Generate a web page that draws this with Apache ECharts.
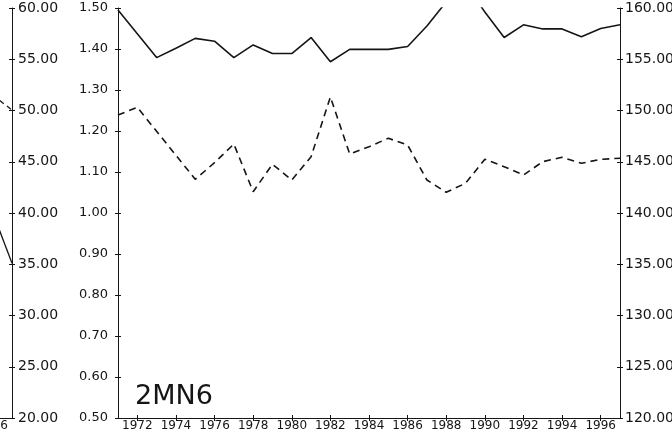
<!DOCTYPE html>
<html>
<head>
<meta charset="utf-8">
<script src="https://cdn.jsdelivr.net/npm/echarts@6/dist/echarts.min.js"></script>
<style>
  html, body { margin: 0; padding: 0; background: #fff; }
  #chart { width: 672px; height: 439px; }
</style>
</head>
<body>
<div id="chart"></div>
<script>
// Years on the horizontal axis
const years = ['1971','1972','1973','1974','1975','1976','1977','1978','1979','1980',
  '1981','1982','1983','1984','1985','1986','1987','1988','1989','1990',
  '1991','1992','1993','1994','1995','1996','1997'];

// Station 2MN6: solid series (left scale, 0.50 - 1.50)
const solidValues = [1.495, 1.437, 1.379, 1.402, 1.426, 1.419, 1.379, 1.410, 1.389, 1.389,
  1.428, 1.369, 1.399, 1.399, 1.399, 1.406, 1.456, 1.515, 1.56, 1.49,
  1.428, 1.459, 1.449, 1.449, 1.430, 1.450, 1.459];

// Station 2MN6: dashed series (right scale, 120 - 160)
const dashedValues = [149.56, 150.31, 147.97, 145.63, 143.29, 144.91, 146.73, 142.08, 144.75, 143.22,
  145.49, 151.32, 145.76, 146.47, 147.29, 146.63, 143.22, 142.02, 142.90, 145.24,
  144.52, 143.71, 145.01, 145.43, 144.85, 145.24, 145.34];

// Last years of the preceding panel (its right scale, 20 - 60)
const prevYears = [1996, 1997];
const prevSolid = [40.05, 35.1];
const prevDashed = [51.5, 50.05];
const prevLastLabel = '1996';

const leftTicks = { min: 0.5, max: 1.5, interval: 0.1 };
const rightTicks = { min: 120, max: 160, interval: 5 };
const prevTicks = { min: 20, max: 60, interval: 5 };
const panelLabel = '2MN6';

const ink = '#151515';
const fontFamily = 'DejaVu Sans';
const evenYear = (i, v) => Number(v) % 2 === 0;

function mainXAxes() {
  const base = {
    type: 'category', data: years, boundaryGap: false, gridIndex: 0, position: 'bottom',
    axisLine: { lineStyle: { color: ink, width: 1 } },
    splitLine: { show: false }
  };
  return [
    Object.assign({}, base, {
      axisTick: { show: true, interval: evenYear, length: 3, lineStyle: { color: ink } },
      axisLabel: { interval: evenYear, color: ink, fontFamily, fontSize: 12, margin: 2 }
    }),
    Object.assign({}, base, {
      axisTick: { show: true, inside: true, interval: evenYear, length: 3, lineStyle: { color: ink } },
      axisLabel: { show: false }, axisLine: { show: false }
    })
  ];
}

function yPair(gridIndex, ticks, position, labelOpts, fmt) {
  const base = {
    type: 'value', gridIndex, position, min: ticks.min, max: ticks.max, interval: ticks.interval,
    splitLine: { show: false }, offset: 0
  };
  return [
    Object.assign({}, base, {
      axisLine: { show: true, lineStyle: { color: ink, width: 1 } },
      axisTick: { show: true, length: 3, lineStyle: { color: ink } },
      axisLabel: Object.assign({ color: ink, fontFamily, fontSize: 13, formatter: fmt }, labelOpts)
    }),
    Object.assign({}, base, {
      axisLine: { show: false },
      axisTick: { show: true, inside: true, length: 3, lineStyle: { color: ink } },
      axisLabel: { show: false }
    })
  ];
}

const chart = echarts.init(document.getElementById('chart'), null, { renderer: 'canvas' });
const fmt2 = v => v.toFixed(2);
const pairs = (xs, ys) => xs.map((x, i) => [x, ys[i]]);

// The preceding panel uses the same year spacing; only its last ~0.6 year fits in view.
const yearSpan = (672 - 52 - 118) / (years.length - 1);
const prevMin = 1997 - 12 / yearSpan;

chart.setOption({
  backgroundColor: '#fff',
  animation: false,
  grid: [
    { left: 118, right: 52, top: 8, bottom: 21, containLabel: false, outerBoundsMode: 'none' },
    { left: 0, right: 660, top: 8, bottom: 21, containLabel: false, outerBoundsMode: 'none' }
  ],
  xAxis: mainXAxes().concat([{
    type: 'value', gridIndex: 1, min: prevMin, max: 1997, position: 'bottom',
    axisLine: { lineStyle: { color: ink, width: 1 } },
    axisTick: { show: false }, axisLabel: { show: false }, splitLine: { show: false }
  }]),
  yAxis: [].concat(
    yPair(0, leftTicks, 'left', { margin: 10 }, fmt2),
    yPair(0, rightTicks, 'right', { margin: 5, fontSize: 14 }, fmt2),
    yPair(1, prevTicks, 'right', { margin: 6, fontSize: 14 }, fmt2)
  ),
  title: {
    text: panelLabel,
    left: 130, top: 378,
    textStyle: { fontFamily, fontSize: 27, fontWeight: 'normal', color: ink }
  },
  series: [
    {
      type: 'line', name: 'solid', data: solidValues, xAxisIndex: 0, yAxisIndex: 0,
      symbol: 'none', smooth: false, clip: true,
      lineStyle: { color: ink, width: 1.6, type: 'solid' }
    },
    {
      type: 'line', name: 'dashed', data: dashedValues, xAxisIndex: 0, yAxisIndex: 2,
      symbol: 'none', smooth: false, clip: true,
      lineStyle: { color: ink, width: 1.6, type: [7, 5] }
    },
    {
      type: 'line', name: 'prev-solid', data: pairs(prevYears, prevSolid), xAxisIndex: 2, yAxisIndex: 4,
      symbol: 'none', clip: true,
      lineStyle: { color: ink, width: 1.3, type: 'solid' }
    },
    {
      type: 'line', name: 'prev-dashed', data: pairs(prevYears, prevDashed), xAxisIndex: 2, yAxisIndex: 4,
      symbol: 'none', clip: true,
      lineStyle: { color: ink, width: 1.3, type: [5, 4] }
    }
  ]
});

// Year label of the preceding panel, placed with that panel's own x scale
const labelX = chart.convertToPixel({ xAxisIndex: 2 }, Number(prevLastLabel));
const baseY = chart.convertToPixel({ yAxisIndex: 4 }, prevTicks.min);
chart.setOption({
  graphic: [{
    type: 'text', x: labelX, y: baseY + 2, silent: true,
    style: { text: prevLastLabel, align: 'center', verticalAlign: 'top',
      fill: ink, font: '12px "DejaVu Sans"' }
  }]
});
</script>
</body>
</html>
